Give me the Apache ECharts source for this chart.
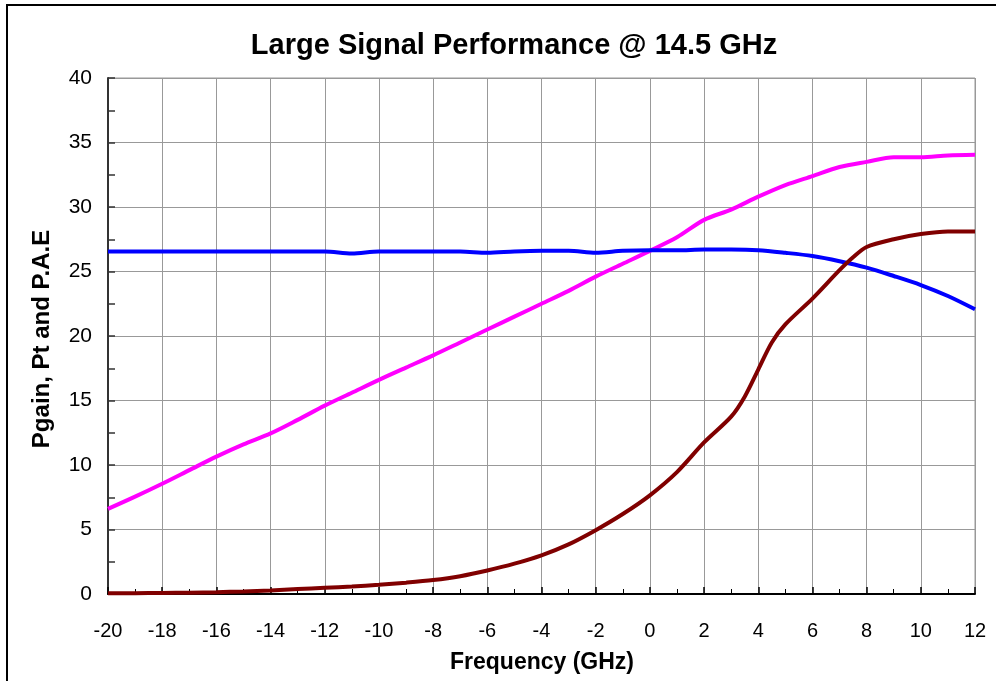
<!DOCTYPE html>
<html>
<head>
<meta charset="utf-8">
<script src="https://cdn.jsdelivr.net/npm/echarts@6/dist/echarts.min.js"></script>
<style>html,body{margin:0;padding:0;background:#fff}#c{width:996px;height:681px}</style>
</head>
<body>
<div id="c"></div>
<script>
const freqs = [-20,-19,-18,-17,-16,-15,-14,-13,-12,-11,-10,-9,-8,-7,-6,-5,-4,-3,-2,-1,0,1,2,3,4,5,6,7,8,9,10,11,12];
const pout = [6.6,7.55,8.55,9.6,10.65,11.6,12.45,13.5,14.6,15.6,16.6,17.55,18.5,19.5,20.5,21.5,22.5,23.5,24.6,25.6,26.6,27.65,29.0,29.8,30.8,31.7,32.4,33.1,33.5,33.85,33.85,34.0,34.05];
const gain = [26.55,26.55,26.55,26.55,26.55,26.55,26.55,26.55,26.55,26.4,26.55,26.55,26.55,26.55,26.45,26.55,26.6,26.6,26.45,26.6,26.65,26.65,26.7,26.7,26.65,26.45,26.2,25.8,25.3,24.65,23.95,23.1,22.07];
const paeFreqs = [-20,-19,-18,-17,-16,-15,-14,-13,-12,-11,-10,-9,-8,-7,-6,-5,-4,-3,-2,-1,0,1,2,3,3.5,4,4.5,5,6,7,7.5,8,9,10,11,12];
const pae = [0.05,0.06,0.08,0.1,0.14,0.2,0.28,0.38,0.48,0.58,0.72,0.88,1.08,1.38,1.82,2.35,3.0,3.85,4.95,6.2,7.65,9.45,11.75,13.75,15.3,17.4,19.5,20.9,22.9,25.1,26.1,26.9,27.5,27.9,28.1,28.1];
const title = 'Large Signal Performance @ 14.5 GHz';
const xName = 'Frequency (GHz)';
const yName = 'Pgain, Pt and P.A.E';

const pair = (xs, ys) => xs.map((x, i) => [x, ys[i]]);
const FONT = 'Liberation Sans, Arial, sans-serif';
const chart = echarts.init(document.getElementById('c'));
chart.setOption({
  animation: false,
  backgroundColor: '#fff',
  title: {
    text: title, left: 509, top: 26, textAlign: 'center',
    textStyle: {fontFamily: FONT, fontSize: 29, fontWeight: 'bold', color: '#000'}
  },
  graphic: [{
    type: 'rect', shape: {x: 7, y: 5, width: 1000, height: 700},
    style: {fill: 'none', stroke: '#000', lineWidth: 2}, z: -1
  }, {
    type: 'text', x: 42, y: 339, rotation: Math.PI / 2,
    style: {text: yName, font: 'bold 24px ' + FONT, fill: '#000', textAlign: 'center', textVerticalAlign: 'middle'}
  }, {
    type: 'text', x: 542, y: 663,
    style: {text: xName, font: 'bold 23px ' + FONT, fill: '#000', textAlign: 'center', textVerticalAlign: 'middle'}
  }],
  grid: {left: 108, top: 78, right: 21, bottom: 87, show: true, borderColor: '#999', borderWidth: 1},
  xAxis: {
    type: 'value', min: -20, max: 12, interval: 2,
    axisLine: {onZero: false, lineStyle: {color: '#000', width: 2}},
    axisTick: {inside: true, length: 7, lineStyle: {color: '#000', width: 1.5}},
    minorTick: {show: true, splitNumber: 2, length: 5, lineStyle: {color: '#000', width: 1}},
    splitLine: {show: true, lineStyle: {color: '#999', width: 1}},
    axisLabel: {fontFamily: FONT, fontSize: 20, color: '#000', margin: 27}
  },
  yAxis: {
    type: 'value', min: 0, max: 40, interval: 5,
    axisLine: {show: true, onZero: false, lineStyle: {color: '#333', width: 2}},
    axisTick: {show: true, inside: true, length: 7, lineStyle: {color: '#333', width: 1.5}},
    minorTick: {show: true, splitNumber: 2, length: 7, lineStyle: {color: '#333', width: 1.5}},
    splitLine: {show: true, lineStyle: {color: '#999', width: 1}},
    axisLabel: {fontFamily: FONT, fontSize: 21, color: '#000', margin: 16}
  },
  series: [{
    name: 'Pout', type: 'line', data: pair(freqs, pout), smooth: 0.3, symbol: 'none',
    lineStyle: {color: '#FF00FF', width: 4}
  }, {
    name: 'Gain', type: 'line', data: pair(freqs, gain), smooth: 0.3, symbol: 'none',
    lineStyle: {color: '#0000FF', width: 4}
  }, {
    name: 'PAE', type: 'line', data: pair(paeFreqs, pae), smooth: 0.3, symbol: 'none',
    lineStyle: {color: '#800000', width: 4}
  }]
});
</script>
</body>
</html>
